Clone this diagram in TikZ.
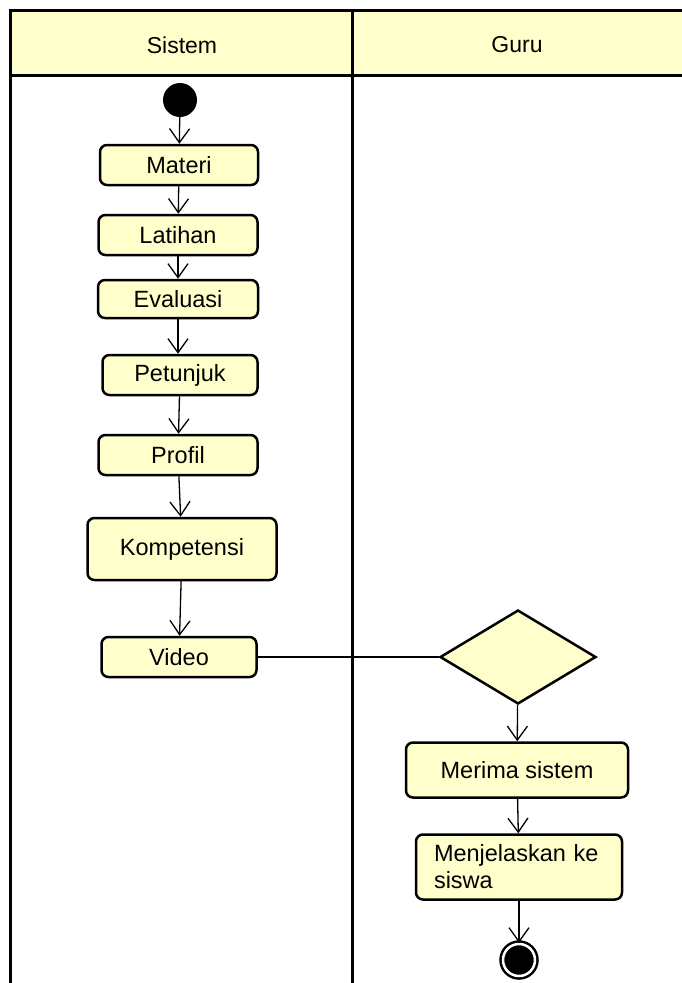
\documentclass[tikz,border=0pt]{standalone}
\usepackage{fontspec}
\setmainfont{Liberation Sans}
\usetikzlibrary{arrows.meta,shapes.geometric}

\definecolor{umlfill}{RGB}{255,255,204}

\tikzset{
  lane/.style={draw, line width=3pt, fill=umlfill},
  act/.style={draw, line width=2.5pt, rounded corners=7pt, fill=umlfill,
    minimum height=40pt, inner sep=4pt, font=\fontsize{23.5}{27}\selectfont},
  flow/.style={line width=1.3pt,
    -{Straight Barb[length=14pt,width=20pt,line width=1.3pt]}},
}

\begin{document}
\begin{tikzpicture}[x=1pt,y=-1pt]

  \useasboundingbox (0,0) rectangle (681,983);

  % swimlanes
  \draw[lane] (10,10) rectangle (352,75);
  \draw[lane] (352,10) rectangle (720,75);
  \draw[line width=3pt] (10,75) -- (10,1000);
  \draw[line width=3pt] (352,75) -- (352,1000);
  \node[font=\fontsize{23}{27}\selectfont] (sistem) at (182,45) {Sistem};
  \node[font=\fontsize{23}{27}\selectfont] (guru) at (517,45) {Guru};

  % Sistem
  \node[circle, fill=black, minimum size=34pt, inner sep=0pt] (start) at (180,100) {};
  \node[act, minimum width=158pt] (materi) at (179,165) {Materi};
  \node[act, minimum width=159pt] (latihan) at (178,235) {Latihan};
  \node[act, minimum width=160pt, minimum height=38pt] (evaluasi) at (178,299) {Evaluasi};
  \node[act, minimum width=155pt] (petunjuk) at (180,375) {Petunjuk};
  \node[act, minimum width=159pt] (profil) at (178,455) {Profil};
  \node[act, minimum width=189pt, minimum height=62pt] (kompetensi) at (182,549) {Kompetensi};
  \node[act, minimum width=155pt] (video) at (179,657) {Video};

  % Guru
  \node[diamond, draw, line width=2.5pt, fill=umlfill, inner sep=0pt,
    minimum width=156pt, minimum height=94pt] (keputusan) at (518,657) {};
  \node[act, minimum width=222pt, minimum height=55pt] (merima) at (517,770) {Merima sistem};
  \node[act, minimum height=65pt, text width=170pt, inner xsep=18pt, align=left]
    (jelaskan) at (519,867) {Menjelaskan ke\\siswa};
  \node[circle, draw, fill=black, line width=2.5pt, double=white,
    double distance=2.5pt, minimum size=32pt, inner sep=0pt] (akhir) at (519,960) {};

  \draw[flow] (start) -- (materi);
  \draw[flow] (materi) -- (latihan);
  \draw[flow] (latihan) -- (evaluasi);
  \draw[flow] (evaluasi.south) -- (petunjuk.north -| evaluasi.south);
  \draw[flow] (petunjuk) -- (profil);
  \draw[flow] (profil) -- (kompetensi);
  \draw[flow] (kompetensi) -- (video);
  \draw[line width=1.3pt] (video.east) -- (keputusan.west);
  \draw[flow] (keputusan) -- (merima);
  \draw[flow] (merima) -- (jelaskan);
  \draw[flow] (jelaskan) -- (akhir);

\end{tikzpicture}
\end{document}
